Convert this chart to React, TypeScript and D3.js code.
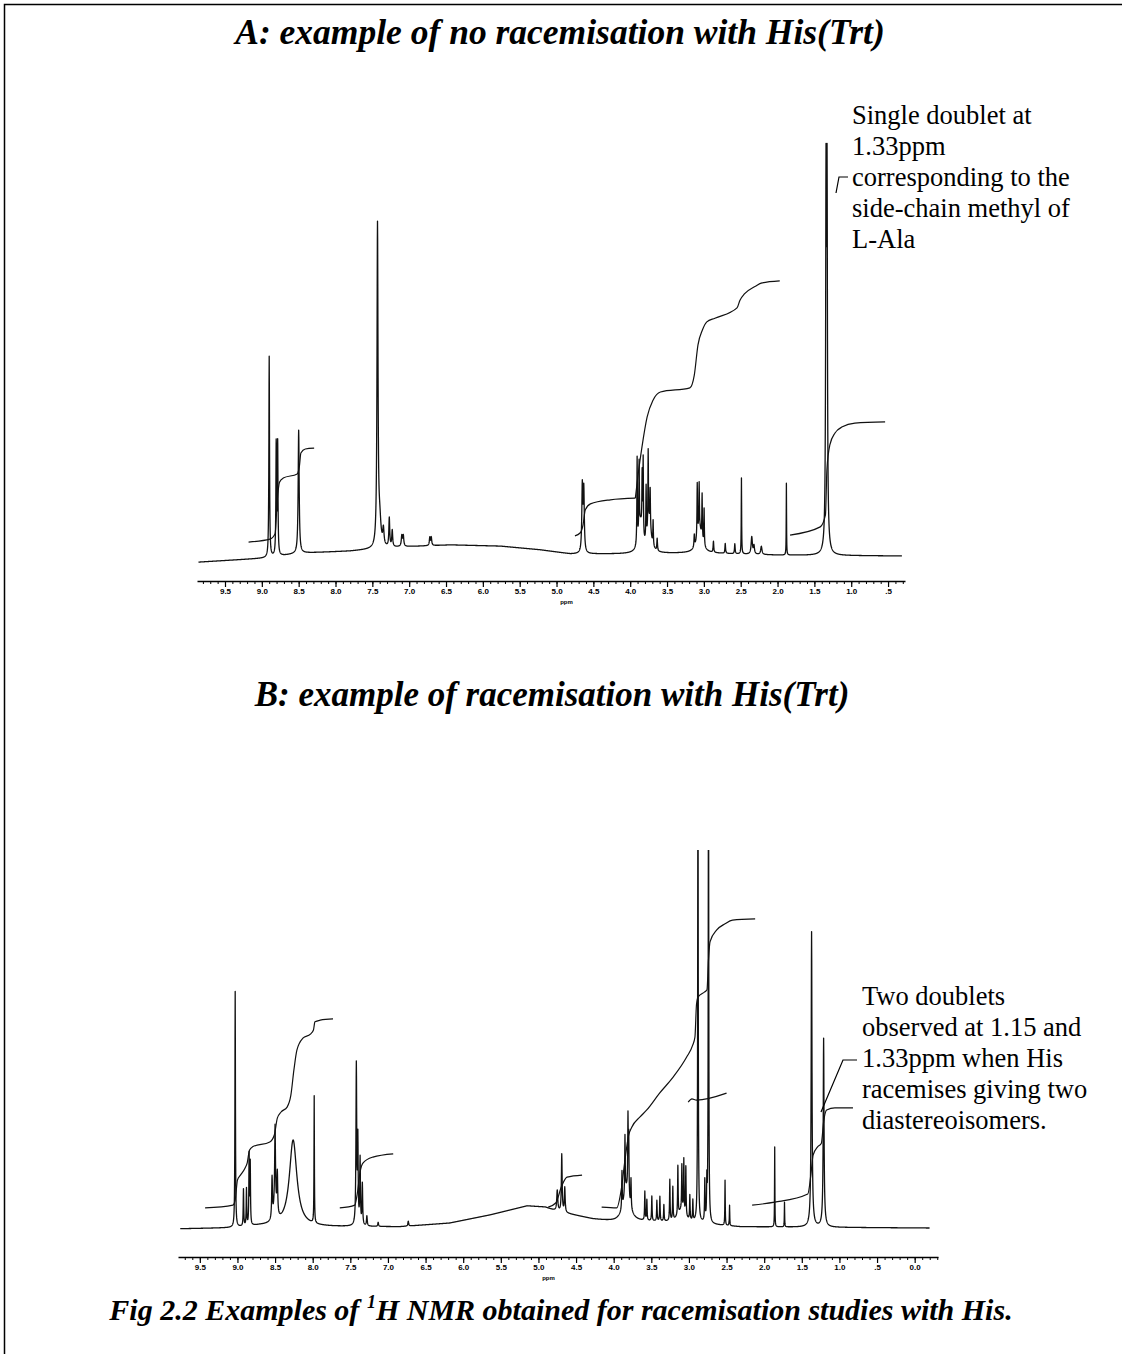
import React, { useEffect, useRef } from 'react';
import * as d3 from 'd3';

const W = 1122;
const H = 1354;

// ---- panel A: no racemisation ----
// peaks: [ppm, height, half width (ppm)]
const peaksA: [number, number, number][] = [
  [8.90, 49, 0.005], [8.805, 27, 0.005], [8.785, 27, 0.005], [8.50, 30, 0.008],
  [7.43, 78, 0.008], [7.40, 6, 0.02], [7.35, 4, 0.01], [7.27, 7, 0.007], [7.23, 4, 0.007],
  [7.10, 2.6, 0.008], [7.08, 2.6, 0.008], [6.72, 2, 0.007], [6.70, 2, 0.007],
  [4.65, 16, 0.008], [4.63, 15, 0.008],
  [3.86, 7, 0.03], [3.74, 7, 0.03],
  [3.906, 21, 0.004], [3.879, 17, 0.004], [3.838, 14, 0.004], [3.824, 19, 0.004],
  [3.784, 13, 0.004], [3.756, 19, 0.004], [3.729, 9, 0.004], [3.689, 6, 0.004], [3.634, 3, 0.005],
  [3.06, 6, 0.04], [3.13, 3, 0.005], [3.09, 13, 0.004], [3.064, 11, 0.004], [3.024, 11, 0.004], [2.997, 9, 0.004],
  [2.87, 2.7, 0.005], [2.71, 2.4, 0.005], [2.58, 2.4, 0.005], [2.49, 18.5, 0.003],
  [2.35, 4.2, 0.01], [2.32, 2, 0.008], [2.22, 2, 0.01],
  [1.88, 17.5, 0.0025],
  [1.342, 83, 0.006], [1.328, 83, 0.006], [1.335, 5, 0.025],
];
const baselineA: [number, number][] = [
  [9.86, 0.7], [8.93, 1.7], [8.48, 2.9], [7.80, 3.4], [7.12, 4.4], [6.44, 4.9], [5.76, 4.6],
  [5.22, 3.7], [4.81, 2.7], [4.14, 2.7], [3.05, 2.9], [1.97, 2.4], [0.31, 2.2],
];
const integralsA: [number, number][][] = [
  [[9.18, 5.6], [8.89, 6.3], [8.82, 7.6], [8.79, 15.9], [8.76, 20.2], [8.71, 21.2], [8.52, 22.2],
   [8.49, 24.1], [8.47, 27.3], [8.41, 28.3], [8.29, 28.5]],
  [[4.75, 7.1], [4.68, 7.8], [4.64, 9.8], [4.61, 13.4], [4.54, 14.9], [4.27, 15.9], [3.93, 16.3]],
  [[3.93, 16.3], [3.89, 22.4], [3.84, 28.8], [3.77, 36.1], [3.69, 40.2], [3.59, 42.2], [3.19, 43.2],
   [3.13, 46.3], [3.08, 53.7], [3.02, 57.3], [2.96, 59.3], [2.85, 60.2], [2.55, 62.7], [2.51, 64.6],
   [2.45, 66.1], [2.30, 68.0], [2.21, 68.8], [1.97, 69.3]],
  [[1.83, 7.3], [1.42, 9.3], [1.35, 12.2], [1.33, 23.2], [1.29, 29.3], [1.22, 32.2], [1.12, 33.7],
   [0.95, 34.6], [0.54, 34.9]],
];
const ticksA = [9.5, 9.0, 8.5, 8.0, 7.5, 7.0, 6.5, 6.0, 5.5, 5.0, 4.5, 4.0, 3.5, 3.0, 2.5, 2.0, 1.5, 1.0, 0.5];
const noteA = ['Single doublet at', '1.33ppm', 'corresponding to the', 'side-chain methyl of', 'L-Ala'];

// ---- panel B: racemisation ----
const peaksB: [number, number, number][] = [
  [9.03, 57.5, 0.004], [8.92, 9, 0.004], [8.88, 9, 0.004], [8.845, 17, 0.004], [8.83, 15, 0.004],
  [8.54, 10, 0.006], [8.50, 18, 0.006], [8.47, 10, 0.006], [8.50, 5, 0.02],
  [8.26, 21, 0.06], [7.98, 31, 0.003],
  [7.42, 39, 0.006], [7.40, 20, 0.005], [7.37, 16, 0.005], [7.34, 10, 0.005],
  [7.28, 2.4, 0.006], [7.13, 1, 0.006], [6.73, 1.2, 0.006],
  [4.75, 5, 0.008], [4.69, 14, 0.006], [4.65, 6, 0.006],
  [3.83, 8, 0.05], [3.89, 9, 0.004], [3.85, 14, 0.004], [3.81, 18, 0.004], [3.80, 14, 0.004], [3.77, 7, 0.004],
  [3.10, 3, 0.06],
  [3.586, 7, 0.004], [3.559, 5, 0.004], [3.493, 6, 0.004], [3.426, 5, 0.004], [3.386, 6, 0.004],
  [3.333, 4, 0.004], [3.254, 10, 0.004], [3.214, 8, 0.004], [3.147, 12, 0.004], [3.094, 11, 0.004],
  [3.068, 13, 0.004], [3.041, 12, 0.004], [2.988, 6, 0.004], [2.948, 5, 0.004],
  [2.789, 10, 0.004], [2.762, 9, 0.004],
  [2.88, 120, 0.004], [2.74, 120, 0.004],
  [2.52, 11, 0.003], [2.46, 5, 0.003], [1.86, 19.5, 0.0025], [1.73, 6, 0.0025],
  [1.37, 68, 0.006], [1.37, 4, 0.02], [1.21, 43, 0.006], [1.21, 3, 0.02],
];
const baselineB: [number, number][] = [
  [9.76, 1.5], [9.06, 1.7], [8.70, 2.2], [7.77, 2.0], [6.84, 2.0], [6.18, 2.9], [5.64, 4.9],
  [5.15, 7.1], [4.91, 6.8], [4.77, 5.9], [4.58, 5.1], [4.28, 3.9], [3.98, 3.2], [3.52, 3.2],
  [2.86, 2.7], [2.32, 2.0], [-0.2, 1.7],
];
const integralsB: [number, number][][] = [
  [[9.43, 6.6], [9.06, 7.3], [9.03, 8.5], [9.00, 13.4], [8.96, 14.6], [8.90, 16.3], [8.87, 17.6],
   [8.84, 20.7], [8.80, 21.5], [8.57, 22.7], [8.51, 24.4], [8.47, 28.5], [8.42, 30.0], [8.34, 31.2],
   [8.29, 34.1], [8.25, 40.2], [8.21, 45.1], [8.13, 48.0], [8.03, 49.0], [7.99, 50.0], [7.97, 52.0],
   [7.90, 52.4], [7.73, 52.7]],
  [[7.64, 6.6], [7.44, 7.3], [7.41, 9.8], [7.37, 15.4], [7.33, 17.6], [7.20, 19.0], [6.93, 19.8]],
  [[4.87, 6.8], [4.77, 7.8], [4.69, 12.0], [4.62, 14.1], [4.42, 14.6]],
  [[4.16, 6.8], [3.96, 6.6], [3.90, 11.0], [3.85, 18.3], [3.80, 24.4], [3.76, 26.3], [3.65, 28.8],
   [3.56, 30.5], [3.39, 34.6], [3.21, 38.5], [3.03, 43.4], [2.95, 46.3], [2.92, 48.3], [2.90, 56.1],
   [2.88, 58.0], [2.79, 59.3], [2.76, 59.8], [2.74, 67.1], [2.72, 71.5], [2.63, 74.4], [2.52, 75.9],
   [2.42, 76.8], [2.12, 77.1]],
  [[3.01, 32.4], [2.96, 33.2], [2.90, 32.9], [2.50, 34.6]],
  [[2.16, 7.3], [1.86, 8.0], [1.42, 10.0], [1.38, 14.6], [1.35, 19.5], [1.29, 21.5], [1.24, 22.4],
   [1.21, 27.6], [1.17, 30.5], [1.06, 31.0], [0.82, 31.0]],
];
const ticksB = [9.5, 9.0, 8.5, 8.0, 7.5, 7.0, 6.5, 6.0, 5.5, 5.0, 4.5, 4.0, 3.5, 3.0, 2.5, 2.0, 1.5, 1.0, 0.5, 0.0];
const noteB = ['Two doublets', 'observed at 1.15 and', '1.33ppm when His', 'racemises giving two', 'diastereoisomers.'];

const serif = '"Liberation Serif", "Times New Roman", serif';

function spectrum(peaks: [number, number, number][], baseline: [number, number][], from: number, to: number) {
  const base = d3.scaleLinear().domain(baseline.map(d => d[0])).range(baseline.map(d => d[1])).clamp(true);
  const grid = d3.range(from, to, -0.002).concat(peaks.map(d => d[0]).filter(p => p < from && p > to));
  grid.sort((a, b) => b - a);
  return grid.map(p => [p, base(p) + d3.sum(peaks, ([c, h, g]) => h * g * g / ((p - c) * (p - c) + g * g))]);
}

function drawPanel(svg: any, cfg: any) {
  const { x, y, peaks, baseline, integrals, ticks, axisY, trace, clipTop, id } = cfg;
  const g = svg.append('g');

  const line = d3.line<number[]>().x(d => x(d[0])).y(d => y(d[1]));

  if (clipTop !== undefined) {
    svg.append('clipPath').attr('id', id)
      .append('rect').attr('x', 0).attr('y', clipTop).attr('width', W).attr('height', H - clipTop);
  }

  g.append('path')
    .datum(spectrum(peaks, baseline, trace[0], trace[1]))
    .attr('d', line)
    .attr('fill', 'none')
    .attr('stroke', '#111')
    .attr('stroke-width', 1.3)
    .attr('stroke-linejoin', 'round')
    .attr('clip-path', clipTop !== undefined ? `url(#${id})` : null);

  g.selectAll('.integral')
    .data(integrals)
    .enter()
    .append('path')
    .attr('class', 'integral')
    .attr('d', line.curve(d3.curveMonotoneX))
    .attr('fill', 'none')
    .attr('stroke', '#111')
    .attr('stroke-width', 1.2);

  // minor ticks every 0.1 ppm
  const [d0, d1] = x.domain();
  const minor = d3.range(Math.floor(d0 * 10), Math.ceil(d1 * 10) - 1, -1).map(v => v / 10)
    .filter(v => v <= d0 && v >= d1);
  svg.append('g')
    .attr('transform', `translate(0,${axisY})`)
    .call(d3.axisBottom(x).tickValues(minor).tickSize(3).tickSizeOuter(0).tickFormat(() => ''))
    .call((a: any) => a.select('.domain').attr('stroke-width', 1.4));

  const axis = svg.append('g')
    .attr('transform', `translate(0,${axisY})`)
    .call(d3.axisBottom(x).tickValues(ticks).tickSize(6).tickSizeOuter(0)
      .tickFormat((d: any) => (d === 0.5 ? '.5' : d.toFixed(1))));
  axis.select('.domain').remove();
  axis.selectAll('line').attr('stroke-width', 1.2);
  axis.selectAll('text')
    .attr('font-family', '"Liberation Sans", Arial, sans-serif')
    .attr('font-weight', 'bold')
    .attr('font-size', 8)
    .attr('dy', '0.5em');

  svg.append('text')
    .attr('x', x(4.95))
    .attr('y', axisY + 23)
    .attr('font-family', '"Liberation Sans", Arial, sans-serif')
    .attr('font-weight', 'bold')
    .attr('font-size', 6)
    .text('ppm');
}

function note(svg: any, lines: string[], x0: number, y0: number) {
  svg.append('g')
    .selectAll('text')
    .data(lines)
    .enter()
    .append('text')
    .attr('x', x0)
    .attr('y', (_: any, i: number) => y0 + i * 31)
    .attr('font-family', serif)
    .attr('font-size', 26.5)
    .text((d: string) => d);
}

export default function App() {
  const ref = useRef<SVGSVGElement>(null);

  useEffect(() => {
    const svg = d3.select(ref.current);
    svg.selectAll('*').remove();

    // frame
    svg.append('path')
      .attr('d', `M4.5,${H} L4.5,4.5 L${W},4.5`)
      .attr('fill', 'none')
      .attr('stroke', '#000')
      .attr('stroke-width', 1.5);

    const title = (t: string, cx: number, cy: number, size: number) =>
      svg.append('text')
        .attr('x', cx).attr('y', cy)
        .attr('text-anchor', 'middle')
        .attr('font-family', serif)
        .attr('font-weight', 'bold')
        .attr('font-style', 'italic')
        .attr('font-size', size)
        .text(t);

    title('A: example of no racemisation with His(Trt)', 560, 44, 35.5);
    title('B: example of racemisation with His(Trt)', 552, 706, 35);

    const xA = d3.scaleLinear().domain([9.88, 0.27]).range([197, 905]);
    const yA = d3.scaleLinear().domain([0, 100]).range([565, 155]);
    drawPanel(svg, {
      x: xA, y: yA, peaks: peaksA, baseline: baselineA, integrals: integralsA,
      ticks: ticksA, axisY: 581, trace: [9.86, 0.31], id: 'clipA',
    });

    const xB = d3.scaleLinear().domain([9.79, -0.31]).range([178, 938]);
    const yB = d3.scaleLinear().domain([0, 100]).range([1235, 825]);
    drawPanel(svg, {
      x: xB, y: yB, peaks: peaksB, baseline: baselineB, integrals: integralsB,
      ticks: ticksB, axisY: 1257, trace: [9.76, -0.2], clipTop: 850, id: 'clipB',
    });

    note(svg, noteA, 852, 124);
    svg.append('path').attr('d', 'M848,177 L839,177 L836,193')
      .attr('fill', 'none').attr('stroke', '#000').attr('stroke-width', 1.2);

    note(svg, noteB, 862, 1005);
    svg.append('path').attr('d', 'M857,1060 L843,1060 L821,1112')
      .attr('fill', 'none').attr('stroke', '#000').attr('stroke-width', 1.2);

    // caption
    const cap = svg.append('text')
      .attr('x', 561).attr('y', 1320)
      .attr('text-anchor', 'middle')
      .attr('font-family', serif)
      .attr('font-weight', 'bold')
      .attr('font-style', 'italic')
      .attr('font-size', 30);
    cap.append('tspan').text('Fig 2.2 Examples of ');
    cap.append('tspan').attr('font-size', 18).attr('dy', -12).text('1');
    cap.append('tspan').attr('dy', 12).text('H NMR obtained for racemisation studies with His.');
  }, []);

  return (
    <svg
      ref={ref}
      width={W}
      height={H}
      style={{ position: 'absolute', left: 0, top: 0, background: '#fff' }}
    />
  );
}
